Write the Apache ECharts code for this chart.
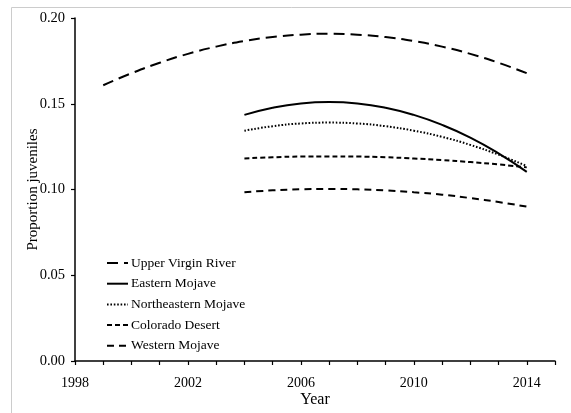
<!DOCTYPE html>
<html>
<head>
<meta charset="utf-8">
<script src="https://cdn.jsdelivr.net/npm/echarts@6/dist/echarts.min.js"></script>
<style>html,body{margin:0;padding:0;background:#fff}#c{width:571px;height:413px}</style>
</head>
<body>
<div id="c"></div>
<script>
const yearsUVR = [1999,2000,2001,2002,2003,2004,2005,2006,2007,2008,2009,2010,2011,2012,2013,2014];
const yearsOther = [2004,2005,2006,2007,2008,2009,2010,2011,2012,2013,2014];
const upperVirginRiver = [0.1608,0.1678,0.1739,0.1791,0.1833,0.1866,0.1889,0.1903,0.1908,0.1903,0.1889,0.1866,0.1833,0.1791,0.1739,0.1678];
const easternMojave = [0.1435,0.1477,0.1502,0.1510,0.1502,0.1477,0.1435,0.1377,0.1303,0.1211,0.1103];
const northeasternMojave = [0.1343,0.1369,0.1385,0.1390,0.1385,0.1369,0.1343,0.1307,0.1260,0.1203,0.1137];
const coloradoDesert = [0.1181,0.1188,0.1192,0.1193,0.1192,0.1188,0.1181,0.1172,0.1160,0.1146,0.1129];
const westernMojave = [0.0984,0.0995,0.1001,0.1003,0.1001,0.0995,0.0984,0.0970,0.0950,0.0927,0.0900];
const seriesNames = ['Upper Virgin River','Eastern Mojave','Northeastern Mojave','Colorado Desert','Western Mojave'];
const xLabelYears = [1998,2002,2006,2010,2014];

const font = 'Liberation Serif';
function pairs(xs, ys){ return xs.map((x,i)=>[x, ys[i]]); }
function mk(name, xs, ys, type, width){
  return {name, type:'line', data:pairs(xs,ys), smooth:true, symbol:'none',
    lineStyle:{color:'#000', width:width, type:type, cap:'butt'}, itemStyle:{color:'#000'}};
}
const chart = echarts.init(document.getElementById('c'));
chart.setOption({
  animation:false,
  backgroundColor:'#fff',
  graphic:[{type:'rect', shape:{x:11.5,y:7.5,width:700,height:600}, style:{fill:'none', stroke:'#cccccc', lineWidth:1}, z:-1}],
  grid:{left:75, right:16, top:18, bottom:47},
  legend:{
    orient:'vertical', left:101, top:251, itemWidth:21, itemHeight:14, itemGap:6.7,
    data:seriesNames,
    textStyle:{fontFamily:font, fontSize:13.5, color:'#000', padding:[0,0,0,-2]},
    itemStyle:{opacity:0}
  },
  xAxis:{
    type:'value', min:1998, max:2015, interval:1,
    name:'Year', nameLocation:'middle', nameGap:31, nameMoveOverlap:false,
    nameTextStyle:{fontFamily:font, fontSize:16, color:'#000'},
    axisLine:{lineStyle:{color:'#000', width:1.5}},
    axisTick:{show:true, length:4, inside:false, lineStyle:{color:'#000', width:1.2}},
    axisLabel:{fontFamily:font, fontSize:14, color:'#000', margin:15,
      formatter:v=> xLabelYears.includes(v) ? String(v) : ''},
    splitLine:{show:false}
  },
  yAxis:{
    type:'value', min:0, max:0.2, interval:0.05,
    name:'Proportion juveniles', nameLocation:'middle', nameGap:34, nameMoveOverlap:false,
    nameTextStyle:{fontFamily:font, fontSize:15, color:'#000'},
    axisLine:{show:true, lineStyle:{color:'#000', width:1.5}},
    axisTick:{show:true, length:4, lineStyle:{color:'#000', width:1.2}},
    axisLabel:{fontFamily:font, fontSize:14.5, color:'#000', margin:10, formatter:v=>v.toFixed(2)},
    splitLine:{show:false}
  },
  series:[
    mk(seriesNames[0], yearsUVR, upperVirginRiver, [11,6], 2),
    mk(seriesNames[1], yearsOther, easternMojave, 'solid', 2),
    mk(seriesNames[2], yearsOther, northeasternMojave, [1.6,1.8], 2),
    mk(seriesNames[3], yearsOther, coloradoDesert, [5,3], 2),
    mk(seriesNames[4], yearsOther, westernMojave, [7,5], 2)
  ]
});
</script>
</body>
</html>
